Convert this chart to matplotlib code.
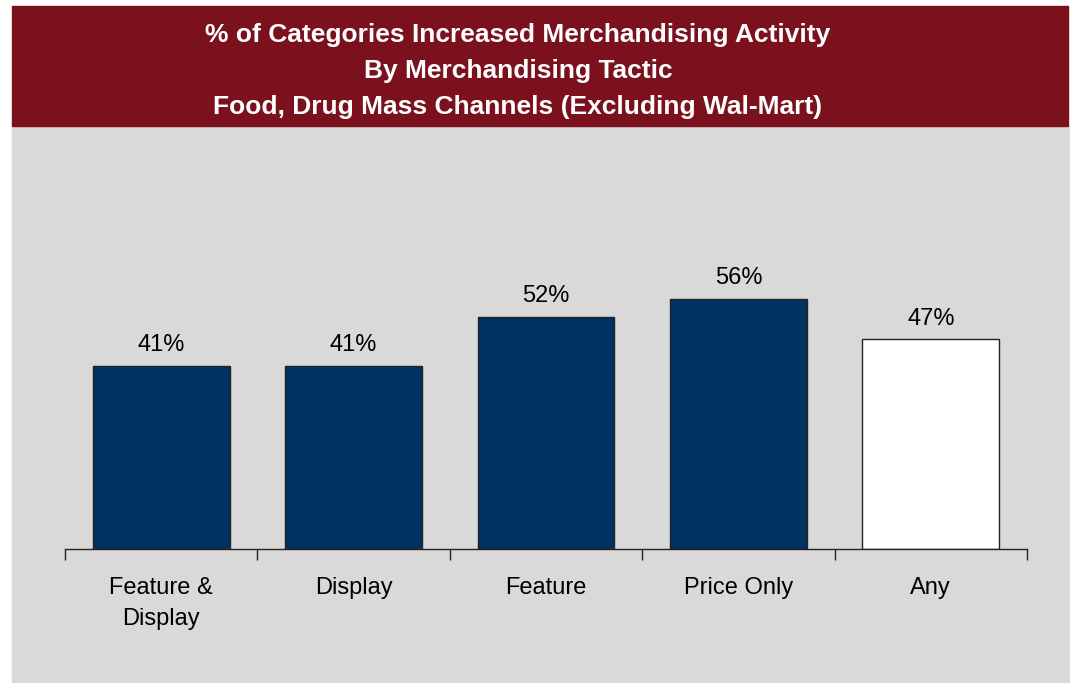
import matplotlib

matplotlib.use("Agg")
import matplotlib.pyplot as plt
from matplotlib.patches import Rectangle

plt.rcParams["font.family"] = ["Liberation Sans", "DejaVu Sans"]

tactics = ["Feature &\nDisplay", "Display", "Feature", "Price Only", "Any"]
pct_increased = [41, 41, 52, 56, 47]
bar_colors = ["#003262", "#003262", "#003262", "#003262", "#ffffff"]
title_lines = [
    "% of Categories Increased Merchandising Activity",
    "By Merchandising Tactic",
    "Food, Drug Mass Channels (Excluding Wal-Mart)",
]

W, H = 1070, 683
fig = plt.figure(figsize=(W / 100, H / 100), dpi=100)
fig.patch.set_facecolor("white")

# gray panel + dark red banner, in pixel-ish fractions of the figure
fig.patches.append(Rectangle((12 / W, 0), 1 - 12 / W, 1 - 126 / H,
                             transform=fig.transFigure, color="#d9d9d9", zorder=-5))
fig.patches.append(Rectangle((12 / W, 1 - 126 / H), (1068 - 12) / W, 120 / H,
                             transform=fig.transFigure, color="#7a111d", zorder=-5))
for i, line in enumerate(title_lines):
    fig.text(518 / W, 1 - (35 + 36 * i) / H, line, color="white", fontsize=19,
             fontweight="bold", ha="center", va="center")

ax = fig.add_axes([65 / W, 1 - 549 / H, 962 / W, 349 / H])
ax.set_facecolor("none")
ax.set_zorder(2)
x = list(range(len(tactics)))
bars = ax.bar(x, pct_increased, width=0.71, color=bar_colors,
              edgecolor="#222222", linewidth=1.0, zorder=2)
for xi, v in zip(x, pct_increased):
    ax.text(xi, v + 2.2, "%d%%" % v, ha="center", va="bottom", fontsize=17, color="black")

ax.set_xlim(-0.5, len(tactics) - 0.5)
ax.set_ylim(0, (549 - 200) / 4.46)
ax.set_yticks([])
for s in ("top", "right", "left"):
    ax.spines[s].set_visible(False)
ax.spines["bottom"].set_color("#222222")
ax.spines["bottom"].set_linewidth(1.0)

# ticks sit between categories, labels centred under bars
ax.set_xticks([i - 0.5 for i in range(len(tactics) + 1)])
ax.set_xticklabels([])
ax.tick_params(axis="x", direction="out", length=8, width=1.0, color="#222222")
for xi, lab in zip(x, tactics):
    ax.text(xi, -6.3, lab, ha="center", va="top", fontsize=17, color="black",
            linespacing=1.5)

fig.savefig("out.png", dpi=100)
